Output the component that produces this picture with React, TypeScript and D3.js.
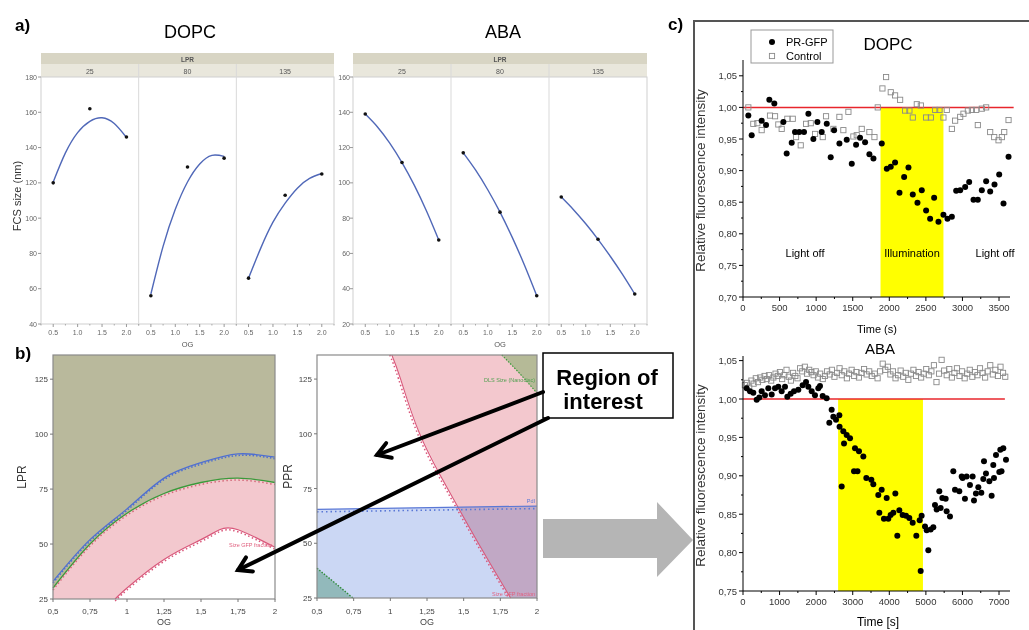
import React from 'react';
import * as d3 from 'd3';

// ---------- panel a : FCS size vs OG, faceted by LPR ----------
const lprLevels = ['25', '80', '135'];
const ogLevels = [0.5, 1.25, 2.0];
const fitOG = [0.5, 0.75, 1.0, 1.25, 1.5, 1.75, 2.0];
const ogTicksA = [0.5, 1.0, 1.5, 2.0];
const ogMinorA = [0.25, 0.75, 1.25, 1.75, 2.25];

const dopcSize = [[120, 162, 146], [56, 129, 134], [66, 113, 125]];
const dopcFit = [
  [120.5, 137, 148.5, 154.9, 156.9, 153.6, 145.7],
  [57, 84, 105, 120.5, 130.7, 135.6, 135],
  [66, 83, 97.7, 108.5, 117, 122.5, 125.3],
];
const dopcYTicks = [40, 60, 80, 100, 120, 140, 160, 180];

const abaSize = [[139, 111.5, 67.6], [117, 83.4, 36], [92, 68, 37]];
const abaFit = [
  [139, 131.7, 122.5, 111.5, 98.7, 84, 67.6],
  [117, 107.3, 96.1, 83.4, 69.1, 53.3, 36],
  [92, 84.8, 76.8, 68, 58.4, 48.1, 37],
];
const abaYTicks = [20, 40, 60, 80, 100, 120, 140, 160];

// ---------- panel b : contour profilers ----------
const ogTicksB = [0.5, 0.75, 1, 1.25, 1.5, 1.75, 2];
const yTicksB = [25, 50, 75, 100, 125];
const contourOG = [0.5, 0.75, 1, 1.25, 1.5, 1.75, 2];
const lprPdI = [33, 52, 66, 80, 87, 91, 89.5];
const lprDLS = [30, 50, 64, 73, 78, 80, 78];
const sizeOG = [0.92, 1, 1.25, 1.5, 1.625, 1.75, 2];
const lprSize = [25, 30, 43, 52, 56.5, 56.5, 48.5];

const pprSizeLevels = [136, 125, 100, 75, 50, 25];
const ogSizeBound = [1.01, 1.07, 1.2, 1.39, 1.6, 1.82];
const pdiOG = [0.5, 2];
const pprPdI = [65.5, 67];
const dlsTopOG = [1.76, 1.88, 2.0];
const pprDlsTop = [136, 127.7, 118.6];
const dlsLowOG = [0.5, 0.62, 0.745];
const pprDlsLow = [38.6, 32, 25];

// ---------- panel c : relative fluorescence ----------
const dopcGfp: [number, number][] = [
  [73, 0.987], [119, 0.956], [255, 0.979], [315, 0.972], [360, 1.012], [428, 1.006], [552, 0.977],
  [597, 0.927], [666, 0.944], [711, 0.961], [770, 0.961], [834, 0.961], [894, 0.99], [962, 0.95],
  [1017, 0.977], [1076, 0.961], [1145, 0.974], [1199, 0.921], [1245, 0.964], [1318, 0.943],
  [1418, 0.949], [1487, 0.911], [1546, 0.941], [1600, 0.952], [1669, 0.945], [1728, 0.926],
  [1783, 0.919], [1897, 0.943], [1966, 0.903], [2020, 0.906], [2079, 0.913], [2139, 0.865],
  [2203, 0.89], [2262, 0.905], [2321, 0.862], [2385, 0.849], [2444, 0.869], [2503, 0.837],
  [2558, 0.824], [2613, 0.857], [2672, 0.819], [2740, 0.83], [2795, 0.824], [2855, 0.827],
  [2914, 0.868], [2969, 0.869], [3037, 0.874], [3092, 0.882], [3151, 0.854], [3210, 0.854],
  [3265, 0.869], [3324, 0.883], [3379, 0.867], [3438, 0.878], [3502, 0.894], [3561, 0.848],
  [3630, 0.922],
];
const dopcControl: [number, number][] = [
  [73, 1.0], [141, 0.974], [196, 0.975], [255, 0.964], [369, 0.987], [438, 0.986], [483, 0.973],
  [529, 0.966], [606, 0.982], [680, 0.982], [725, 0.953], [789, 0.94], [862, 0.974], [926, 0.975],
  [985, 0.958], [1090, 0.953], [1135, 0.986], [1236, 0.966], [1318, 0.985], [1372, 0.964],
  [1441, 0.993], [1509, 0.954], [1555, 0.956], [1623, 0.966], [1728, 0.961], [1797, 0.953],
  [1842, 1.0], [1906, 1.03], [1956, 1.048], [2020, 1.024], [2079, 1.019], [2148, 1.012],
  [2216, 0.995], [2275, 0.995], [2321, 0.984], [2376, 1.005], [2431, 1.003], [2503, 0.984],
  [2568, 0.984], [2627, 0.996], [2686, 0.996], [2740, 0.984], [2786, 0.996], [2855, 0.966],
  [2900, 0.979], [2969, 0.985], [3014, 0.99], [3074, 0.995], [3129, 0.996], [3188, 0.996],
  [3210, 0.972], [3265, 0.998], [3324, 1.0], [3379, 0.961], [3434, 0.953], [3493, 0.948],
  [3539, 0.953], [3571, 0.961], [3630, 0.98],
];
const abaGfp: [number, number][] = [
  [100, 1.014], [191, 1.01], [282, 1.008], [374, 0.999], [446, 1.002], [510, 1.01], [601, 1.005],
  [692, 1.014], [784, 1.006], [875, 1.014], [966, 1.016], [1057, 1.01], [1148, 1.016], [1212, 1.003],
  [1303, 1.007], [1394, 1.01], [1513, 1.012], [1631, 1.018], [1723, 1.022], [1786, 1.016],
  [1878, 1.01], [1968, 1.005], [2059, 1.014], [2105, 1.017], [2178, 1.004], [2287, 1.001],
  [2360, 0.969], [2424, 0.986], [2470, 0.977], [2543, 0.973], [2634, 0.979], [2640, 0.964],
  [2698, 0.886], [2743, 0.958], [2762, 0.942], [2835, 0.953], [2926, 0.949], [3035, 0.906],
  [3062, 0.936], [3130, 0.906], [3171, 0.932], [3290, 0.925], [3372, 0.897], [3509, 0.895],
  [3563, 0.889], [3699, 0.875], [3727, 0.852], [3791, 0.882], [3854, 0.844], [3928, 0.871],
  [3973, 0.844], [4037, 0.849], [4110, 0.852], [4165, 0.877], [4219, 0.822], [4274, 0.855],
  [4365, 0.849], [4456, 0.848], [4547, 0.845], [4639, 0.839], [4739, 0.822], [4830, 0.842],
  [4858, 0.776], [4884, 0.848], [4976, 0.834], [5022, 0.829], [5067, 0.803], [5131, 0.83],
  [5203, 0.833], [5249, 0.862], [5295, 0.856], [5367, 0.88], [5404, 0.858], [5450, 0.871],
  [5541, 0.87], [5568, 0.854], [5659, 0.847], [5750, 0.906], [5796, 0.882], [5914, 0.88],
  [5979, 0.899], [6005, 0.897], [6068, 0.87], [6114, 0.899], [6205, 0.888], [6278, 0.899],
  [6315, 0.868], [6369, 0.877], [6434, 0.885], [6516, 0.878], [6570, 0.896], [6589, 0.919],
  [6643, 0.903], [6735, 0.893], [6798, 0.874], [6843, 0.914], [6862, 0.897], [6917, 0.927],
  [7008, 0.905], [7035, 0.934], [7068, 0.906], [7117, 0.936], [7190, 0.921],
];
const abaControl: [number, number][] = [
  [50, 1.018], [110, 1.021], [170, 1.015], [230, 1.024], [290, 1.02], [350, 1.027], [410, 1.022],
  [470, 1.028], [530, 1.025], [590, 1.03], [650, 1.026], [710, 1.031], [770, 1.024], [830, 1.028],
  [890, 1.033], [950, 1.03], [1010, 1.035], [1070, 1.026], [1130, 1.031], [1190, 1.038],
  [1250, 1.029], [1310, 1.024], [1370, 1.034], [1430, 1.03], [1490, 1.027], [1560, 1.04],
  [1620, 1.036], [1690, 1.042], [1750, 1.033], [1810, 1.038], [1870, 1.035], [1930, 1.031],
  [1990, 1.036], [2050, 1.028], [2110, 1.033], [2180, 1.026], [2240, 1.03], [2300, 1.036],
  [2370, 1.032], [2430, 1.038], [2500, 1.029], [2570, 1.034], [2640, 1.04], [2700, 1.031],
  [2770, 1.036], [2840, 1.027], [2900, 1.033], [2970, 1.038], [3040, 1.03], [3100, 1.035],
  [3170, 1.028], [3240, 1.034], [3310, 1.039], [3380, 1.032], [3450, 1.036], [3520, 1.03],
  [3600, 1.033], [3680, 1.027], [3750, 1.036], [3820, 1.046], [3890, 1.038], [3960, 1.042],
  [4030, 1.032], [4100, 1.036], [4170, 1.027], [4240, 1.031], [4310, 1.037], [4380, 1.029],
  [4450, 1.034], [4520, 1.025], [4590, 1.033], [4660, 1.038], [4730, 1.03], [4800, 1.035],
  [4870, 1.028], [4940, 1.033], [5010, 1.039], [5080, 1.031], [5150, 1.036], [5220, 1.044],
  [5290, 1.022], [5360, 1.033], [5430, 1.051], [5500, 1.037], [5570, 1.031], [5640, 1.039],
  [5710, 1.028], [5780, 1.034], [5850, 1.04], [5920, 1.03], [5990, 1.036], [6060, 1.027],
  [6130, 1.033], [6200, 1.038], [6270, 1.029], [6340, 1.035], [6410, 1.031], [6480, 1.04],
  [6550, 1.034], [6620, 1.028], [6690, 1.036], [6760, 1.044], [6830, 1.032], [6900, 1.038],
  [6970, 1.03], [7040, 1.042], [7110, 1.034], [7170, 1.029],
];
const dopcIllum = [1880, 2740];
const abaIllum = [2600, 4920];
const dopcXTicks = [0, 500, 1000, 1500, 2000, 2500, 3000, 3500];
const abaXTicks = [0, 1000, 2000, 3000, 4000, 5000, 6000, 7000];
const dopcYTicksC = [0.7, 0.75, 0.8, 0.85, 0.9, 0.95, 1.0, 1.05];
const abaYTicksC = [0.75, 0.8, 0.85, 0.9, 0.95, 1.0, 1.05];

const SANS = 'Liberation Sans, Arial, sans-serif';
const comma = (v: number, digits: number) => v.toFixed(digits).replace('.', ',');

function Facets({ left, right, yDomain, yTicks, points, fits, labelSide }: any) {
  const top = 77, bottom = 324;
  const fw = (right - left) / 3;
  const y = d3.scaleLinear().domain(yDomain).range([bottom, top]);
  return (
    <g fontFamily={SANS}>
      <rect x={left} y={53} width={right - left} height={11} fill="#d8d5c4" />
      <rect x={left} y={64} width={right - left} height={13} fill="#e9e7dc" />
      <text x={(left + right) / 2} y={61.5} fontSize={6.5} fontWeight="bold" fill="#555" textAnchor="middle">LPR</text>
      <rect x={left} y={top} width={right - left} height={bottom - top} fill="#fff" stroke="#cfcfcf" />
      {lprLevels.map((lvl, i) => {
        const x = d3.scaleLinear().domain([0.25, 2.25]).range([left + i * fw, left + (i + 1) * fw]);
        const pts = fitOG.map((o, k) => [x(o), y(fits[i][k])] as [number, number]);
        return (
          <g key={lvl}>
            {i > 0 && <line x1={left + i * fw} x2={left + i * fw} y1={64} y2={bottom} stroke="#d9d9d9" />}
            <text x={left + (i + 0.5) * fw} y={73.5} fontSize={7} fill="#555" textAnchor="middle">{lvl}</text>
            <path d={d3.line().curve(d3.curveNatural)(pts) || ''} fill="none" stroke="#5068b8" strokeWidth={1.4} />
            {ogLevels.map((o, k) => (
              <circle key={k} cx={x(o)} cy={y(points[i][k])} r={1.8} fill="#111" />
            ))}
            {ogTicksA.map(t => (
              <g key={t}>
                <line x1={x(t)} x2={x(t)} y1={bottom} y2={bottom + 3} stroke="#999" />
                <text x={x(t)} y={bottom + 11} fontSize={7} fill="#666" textAnchor="middle">{t.toFixed(1)}</text>
              </g>
            ))}
            {ogMinorA.map(t => (
              <line key={'m' + t} x1={x(t)} x2={x(t)} y1={bottom} y2={bottom + 1.5} stroke="#aaa" />
            ))}
          </g>
        );
      })}
      {yTicks.map((t: number) => (
        <g key={t}>
          <line x1={left - 3} x2={left} y1={y(t)} y2={y(t)} stroke="#999" />
          <text x={labelSide} y={y(t) + 2.5} fontSize={7} fill="#666" textAnchor="end">{t}</text>
        </g>
      ))}
      <text x={(left + right) / 2} y={347} fontSize={7.5} fill="#555" textAnchor="middle">OG</text>
    </g>
  );
}

function ContourFrame({ x, y, xLabelY, children, yLabel, yLabelX }: any) {
  const [x0, x1] = x.range();
  const [y0, y1] = y.range();
  return (
    <g fontFamily={SANS}>
      {children}
      <rect x={x0} y={y1} width={x1 - x0} height={y0 - y1} fill="none" stroke="#8a8a8a" strokeWidth={1.2} />
      {ogTicksB.map(t => (
        <g key={t}>
          <line x1={x(t)} x2={x(t)} y1={y0} y2={y0 + 3} stroke="#777" />
          <text x={x(t)} y={xLabelY} fontSize={8} fill="#444" textAnchor="middle">{String(t).replace('.', ',')}</text>
        </g>
      ))}
      {yTicksB.map(t => (
        <g key={t}>
          <line x1={x0 - 3} x2={x0} y1={y(t)} y2={y(t)} stroke="#777" />
          <text x={x0 - 5} y={y(t) + 3} fontSize={8} fill="#444" textAnchor="end">{t}</text>
        </g>
      ))}
      <text x={(x0 + x1) / 2} y={xLabelY + 11} fontSize={9} fill="#444" textAnchor="middle">OG</text>
      <text transform={`translate(${yLabelX},${(y0 + y1) / 2}) rotate(-90)`} fontSize={12} fill="#333" textAnchor="middle">{yLabel}</text>
    </g>
  );
}

function Arrow({ x1, y1, x2, y2 }: any) {
  const a = Math.atan2(y2 - y1, x2 - x1);
  const L = 15, th = 0.55;
  const h1 = [x2 - L * Math.cos(a - th), y2 - L * Math.sin(a - th)];
  const h2 = [x2 - L * Math.cos(a + th), y2 - L * Math.sin(a + th)];
  return (
    <g stroke="#000" strokeWidth={4} fill="none" strokeLinecap="round" strokeLinejoin="miter">
      <line x1={x1} y1={y1} x2={x2} y2={y2} />
      <polyline points={`${h1.join(',')} ${x2},${y2} ${h2.join(',')}`} />
    </g>
  );
}

function Fluor({ x, y, xTicks, xMinor, yTicks, yMinor, illum, gfp, control, redEnd }: any) {
  const [x0, x1] = x.range();
  const [y0, y1] = y.range();
  return (
    <g fontFamily={SANS}>
      <rect x={x(illum[0])} y={y(1.0)} width={x(illum[1]) - x(illum[0])} height={y0 - y(1.0)} fill="#ffff00" />
      <line x1={x0} x2={x(redEnd)} y1={y(1.0)} y2={y(1.0)} stroke="#e8262c" strokeWidth={1.5} />
      {control.map((d: [number, number], i: number) => (
        <rect key={i} x={x(d[0]) - 2.6} y={y(d[1]) - 2.6} width={5.2} height={5.2} fill="none" stroke="#8a8a8a" strokeWidth={0.9} />
      ))}
      {gfp.map((d: [number, number], i: number) => (
        <circle key={i} cx={x(d[0])} cy={y(d[1])} r={3} fill="#000" />
      ))}
      <line x1={x0} x2={x1} y1={y0} y2={y0} stroke="#000" />
      <line x1={x0} x2={x0} y1={y0} y2={y1} stroke="#000" />
      {xTicks.map((t: number) => (
        <g key={t}>
          <line x1={x(t)} x2={x(t)} y1={y0} y2={y0 + 4} stroke="#000" />
          <text x={x(t)} y={y0 + 14} fontSize={9.5} fill="#333" textAnchor="middle">{t}</text>
        </g>
      ))}
      {xMinor.map((t: number) => (
        <line key={'m' + t} x1={x(t)} x2={x(t)} y1={y0} y2={y0 + 2} stroke="#000" />
      ))}
      {yTicks.map((t: number) => (
        <g key={t}>
          <line x1={x0 - 4} x2={x0} y1={y(t)} y2={y(t)} stroke="#000" />
          <text x={x0 - 6} y={y(t) + 3.5} fontSize={9.5} fill="#333" textAnchor="end">{comma(t, 2)}</text>
        </g>
      ))}
      {yMinor.map((t: number) => (
        <line key={'n' + t} x1={x0 - 2} x2={x0} y1={y(t)} y2={y(t)} stroke="#000" />
      ))}
      <text transform={`translate(705,${(y0 + y1) / 2 + 2}) rotate(-90)`} fontSize={13.5} fill="#333" textAnchor="middle">Relative fluorescence intensity</text>
    </g>
  );
}

export default function App() {
  // panel b scales
  const bxL = d3.scaleLinear().domain([0.5, 2]).range([53, 275]);
  const byL = d3.scaleLinear().domain([25, 136]).range([599, 355]);
  const bxM = d3.scaleLinear().domain([0.5, 2]).range([317, 537]);
  const byM = d3.scaleLinear().domain([25, 136]).range([598, 355]);

  const lineL = (xs: number[], ys: number[], dx = 0, dy = 0) =>
    d3.line().curve(d3.curveNatural)(xs.map((o, i) => [bxL(o) + dx, byL(ys[i]) + dy] as [number, number])) || '';
  const areaL = (xs: number[], ys: number[]) =>
    d3.area<number>().curve(d3.curveNatural).x((o) => bxL(o)).y0(byL(25)).y1((_, i) => byL(ys[i]))(xs) || '';
  const polyM = (pts: [number, number][]) =>
    d3.line()(pts.map(([o, p]) => [bxM(o), byM(p)] as [number, number])) + 'Z';
  const lineM = (xs: number[], ys: number[], dx = 0, dy = 0) =>
    d3.line().curve(d3.curveNatural)(xs.map((o, i) => [bxM(o) + dx, byM(ys[i]) + dy] as [number, number])) || '';

  const sizeBound: [number, number][] = ogSizeBound.map((o, i) => [o, pprSizeLevels[i]]);
  const pinkM: [number, number][] = [...sizeBound, [2, 25], [2, 136]];
  const blueM: [number, number][] = [[0.5, 25], [pdiOG[0], pprPdI[0]], [pdiOG[1], pprPdI[1]], [2, 25]];
  const dlsTop: [number, number][] = [...dlsTopOG.map((o, i) => [o, pprDlsTop[i]] as [number, number]), [2, 136]];
  const dlsLow: [number, number][] = [[0.5, 25], ...dlsLowOG.map((o, i) => [o, pprDlsLow[i]] as [number, number])];

  // panel c scales
  const cxTop = d3.scaleLinear().domain([0, 3650]).range([743, 1010]);
  const cyTop = d3.scaleLinear().domain([0.7, 1.075]).range([297, 60]);
  const cxBot = d3.scaleLinear().domain([0, 7300]).range([743, 1010]);
  const cyBot = d3.scaleLinear().domain([0.75, 1.056]).range([591, 356]);

  return (
    <div style={{ position: 'fixed', left: 0, top: 0, width: 1029, height: 630, background: '#fff' }}>
      <svg width={1029} height={630} style={{ display: 'block' }}>
        <rect width={1029} height={630} fill="#fff" />
        {/* ---- a) ---- */}
        <text x={15} y={31} fontFamily={SANS} fontSize={17} fontWeight="bold">a)</text>
        <text x={190} y={38} fontFamily={SANS} fontSize={18} textAnchor="middle">DOPC</text>
        <text x={503} y={38} fontFamily={SANS} fontSize={18} textAnchor="middle">ABA</text>
        <Facets left={41} right={334} yDomain={[40, 180]} yTicks={dopcYTicks} points={dopcSize} fits={dopcFit} labelSide={37} />
        <Facets left={353} right={647} yDomain={[20, 160]} yTicks={abaYTicks} points={abaSize} fits={abaFit} labelSide={350} />
        <text transform="translate(21,196) rotate(-90)" fontFamily={SANS} fontSize={11} fill="#333" textAnchor="middle">FCS size (nm)</text>

        {/* ---- b) left ---- */}
        <text x={15} y={359} fontFamily={SANS} fontSize={17} fontWeight="bold">b)</text>
        <ContourFrame x={bxL} y={byL} xLabelY={614} yLabel="LPR" yLabelX={26}>
          <rect x={53} y={355} width={222} height={244} fill="#b9b99c" />
          <path d={areaL(contourOG, lprDLS)} fill="#f3c8ce" />
          <path d={areaL(sizeOG, lprSize)} fill="#fff" />
          <path d={lineL(contourOG, lprPdI)} fill="none" stroke="#4f6fd0" strokeWidth={1.3} />
          <path d={lineL(contourOG, lprPdI, 0, 1.5)} fill="none" stroke="#4f6fd0" strokeWidth={1.5} strokeDasharray="1.5 2" />
          <path d={lineL(contourOG, lprDLS)} fill="none" stroke="#3a9a3a" strokeWidth={1.3} />
          <path d={lineL(contourOG, lprDLS, 0, 2)} fill="none" stroke="#d46a7a" strokeWidth={1.5} strokeDasharray="1.5 2.5" />
          <path d={lineL(sizeOG, lprSize)} fill="none" stroke="#d9577a" strokeWidth={1.2} />
          <path d={lineL(sizeOG, lprSize, 0, 2)} fill="none" stroke="#d9577a" strokeWidth={1.5} strokeDasharray="1.5 2.5" />
          <text x={272} y={547} fontSize={5.5} fill="#e0607f" textAnchor="end">Size GFP fraction</text>
        </ContourFrame>

        {/* ---- b) middle ---- */}
        <ContourFrame x={bxM} y={byM} xLabelY={614} yLabel="PPR" yLabelX={292}>
          <rect x={317} y={355} width={220} height={243} fill="#fff" />
          <path d={polyM(pinkM)} fill="#f3c8ce" />
          <path d={polyM(dlsTop)} fill="#b5ba97" />
          <path d={polyM(blueM)} fill="#cbd7f4" style={{ mixBlendMode: 'multiply' }} />
          <path d={polyM(dlsLow)} fill="#b7dcc4" style={{ mixBlendMode: 'multiply' }} />
          <path d={lineM(ogSizeBound, pprSizeLevels)} fill="none" stroke="#d9577a" strokeWidth={1.1} />
          <path d={lineM(ogSizeBound, pprSizeLevels, -2, 0)} fill="none" stroke="#d9577a" strokeWidth={1.5} strokeDasharray="1.5 2.5" />
          <path d={lineM(pdiOG, pprPdI)} fill="none" stroke="#5a78d6" strokeWidth={1.2} />
          <path d={lineM(pdiOG, pprPdI, 0, 2.5)} fill="none" stroke="#5a78d6" strokeWidth={1.6} strokeDasharray="1.5 3" />
          <path d={lineM(dlsTopOG, pprDlsTop)} fill="none" stroke="#3a9a3a" strokeWidth={1.2} strokeDasharray="1.5 1.5" />
          <path d={lineM(dlsLowOG, pprDlsLow)} fill="none" stroke="#2f8a3a" strokeWidth={1.4} strokeDasharray="1.5 1.5" />
          <text x={535} y={382} fontSize={5.5} fill="#52a052" textAnchor="end">DLS Size (Nanodisc)</text>
          <text x={535} y={503} fontSize={5.5} fill="#5a78d6" textAnchor="end">PdI</text>
          <text x={535} y={596} fontSize={5.5} fill="#e0607f" textAnchor="end">Size GFP fraction</text>
        </ContourFrame>

        {/* ---- region of interest + arrows ---- */}
        <rect x={543} y={353} width={130} height={65} fill="#fff" stroke="#000" strokeWidth={1.5} />
        <text x={607} y={385} fontFamily={SANS} fontSize={22} fontWeight="bold" textAnchor="middle">Region of</text>
        <text x={603} y={409} fontFamily={SANS} fontSize={22} fontWeight="bold" textAnchor="middle">interest</text>
        <Arrow x1={543} y1={392} x2={377} y2={455} />
        <Arrow x1={548} y1={418} x2={238} y2={570} />
        <path d="M543,519 L657,519 L657,502 L693,540 L657,577 L657,558 L543,558 Z" fill="#b5b5b5" />

        {/* ---- c) ---- */}
        <text x={668} y={30} fontFamily={SANS} fontSize={17} fontWeight="bold">c)</text>
        <path d="M694,630 L694,21 L1029,21" fill="none" stroke="#555" strokeWidth={2} />
        <Fluor x={cxTop} y={cyTop} xTicks={dopcXTicks} xMinor={d3.range(250, 3650, 500)} yTicks={dopcYTicksC}
          yMinor={d3.range(0.725, 1.075, 0.05)} illum={dopcIllum} gfp={dopcGfp} control={dopcControl} redEnd={3700} />
        <Fluor x={cxBot} y={cyBot} xTicks={abaXTicks} xMinor={d3.range(500, 7300, 1000)} yTicks={abaYTicksC}
          yMinor={d3.range(0.775, 1.056, 0.05)} illum={abaIllum} gfp={abaGfp} control={abaControl} redEnd={7160} />
        <g fontFamily={SANS}>
          <rect x={751} y={30} width={82} height={33} fill="#fff" stroke="#999" />
          <circle cx={772} cy={42} r={3} fill="#000" />
          <text x={786} y={46} fontSize={11}>PR-GFP</text>
          <rect x={769.4} y={53.4} width={5.2} height={5.2} fill="none" stroke="#8a8a8a" strokeWidth={0.9} />
          <text x={786} y={60} fontSize={11}>Control</text>
          <text x={888} y={50} fontSize={17} textAnchor="middle">DOPC</text>
          <text x={880} y={354} fontSize={15} textAnchor="middle">ABA</text>
          <text x={805} y={257} fontSize={11} textAnchor="middle">Light off</text>
          <text x={912} y={257} fontSize={11} textAnchor="middle">Illumination</text>
          <text x={995} y={257} fontSize={11} textAnchor="middle">Light off</text>
          <text x={877} y={333} fontSize={11} textAnchor="middle">Time (s)</text>
          <text x={878} y={626} fontSize={12} textAnchor="middle">Time [s]</text>
        </g>
      </svg>
    </div>
  );
}
